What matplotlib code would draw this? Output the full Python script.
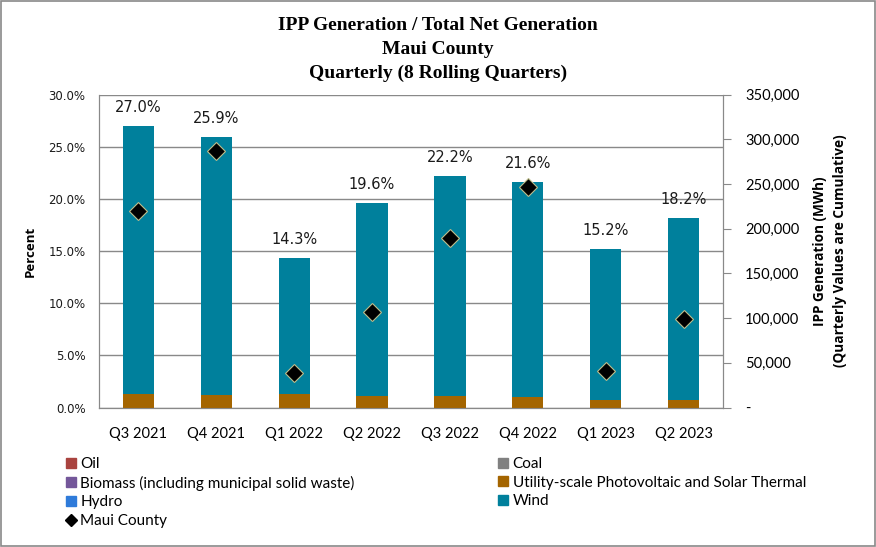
import matplotlib
matplotlib.use("Agg")
import matplotlib.pyplot as plt
from matplotlib.patches import Patch, Rectangle
from matplotlib.lines import Line2D
from matplotlib.ticker import FuncFormatter, MultipleLocator

# quarters shown on the x axis
quarters = ["Q3 2021", "Q4 2021", "Q1 2022", "Q2 2022",
            "Q3 2022", "Q4 2022", "Q1 2023", "Q2 2023"]

# IPP share of total net generation (percent)
total_pct = [27.0, 25.9, 14.3, 19.6, 22.2, 21.6, 15.2, 18.2]
solar_pct = [1.32, 1.20, 1.32, 1.13, 1.13, 1.00, 0.75, 0.75]
oil_pct = [0, 0, 0, 0, 0, 0, 0, 0]
coal_pct = [0, 0, 0, 0, 0, 0, 0, 0]
biomass_pct = [0, 0, 0, 0, 0, 0, 0, 0]
hydro_pct = [0, 0, 0, 0, 0, 0, 0, 0]
wind_pct = [t - s for t, s in zip(total_pct, solar_pct)]

# IPP generation, MWh (cumulative within the year), right axis
maui_mwh = [220200, 286700, 38300, 106500, 189300, 247100, 40500, 98700]

colors = {
    "oil": "#A9433F",
    "coal": "#808080",
    "biomass": "#74579A",
    "solar": "#A46500",
    "hydro": "#2F7BDA",
    "wind": "#00809C",
}
grid_gray = "#898989"

fig = plt.figure(figsize=(8.76, 5.47), dpi=100)
ax = fig.add_axes([0.1134, 0.255, 0.7116, 0.5719])
ax2 = ax.twinx()

x = list(range(len(quarters)))
width = 0.4

# stacked bars on the percent axis
bottom = [0.0] * len(x)
for vals, key in [(oil_pct, "oil"), (coal_pct, "coal"), (biomass_pct, "biomass"),
                  (solar_pct, "solar"), (hydro_pct, "hydro"), (wind_pct, "wind")]:
    ax.bar(x, vals, width, bottom=bottom, color=colors[key], zorder=3)
    bottom = [b + v for b, v in zip(bottom, vals)]

for xi, t in zip(x, total_pct):
    ax.annotate(f"{t:.1f}%", (xi, t), xytext=(0, 8), textcoords="offset points",
                ha="center", va="bottom", fontsize=10.5, family="DejaVu Sans",
                color="#1a1a1a")

ax.set_xlim(-0.5, len(x) - 0.5)
ax.set_ylim(0, 30)
ax.yaxis.set_major_locator(MultipleLocator(5))
ax.yaxis.set_major_formatter(FuncFormatter(lambda v, p: f"{v:.1f}%"))
ax.grid(axis="y", color=grid_gray, linewidth=1, zorder=0)
ax.set_axisbelow(True)
ax.set_xticks(x)
ax.set_xticklabels(quarters, family="Lato", fontsize=10.5)
ax.tick_params(axis="x", length=0, pad=14)
ax.tick_params(axis="y", length=0, pad=10, labelsize=8.5, colors="#1a1a1a")
ax.set_ylabel("Percent", family="Open Sans", fontweight="bold", fontsize=9.5, labelpad=8)

# diamonds on the MWh axis
ax2.plot(x, maui_mwh, linestyle="none", marker="D", markersize=9,
         markerfacecolor="black", markeredgecolor="#BDBD8C", markeredgewidth=0.8,
         zorder=5)
ax2.set_ylim(0, 350000)
ax2.yaxis.set_major_locator(MultipleLocator(50000))
ax2.yaxis.set_major_formatter(FuncFormatter(lambda v, p: "-" if v == 0 else f"{v:,.0f}"))
ax2.tick_params(axis="y", direction="out", length=6, color=grid_gray, pad=10,
                labelsize=10.5)
for lab in ax2.get_yticklabels():
    lab.set_family("Lato")
ax2.set_ylabel("IPP Generation (MWh)\n(Quarterly Values are Cumulative)",
               family="Open Sans", fontweight="bold", fontsize=9.8, labelpad=10,
               linespacing=1.5)

for a in (ax, ax2):
    for side in ("left", "right", "bottom"):
        a.spines[side].set_color(grid_gray)
    a.spines["top"].set_visible(False)

# title
title_lines = ["IPP Generation / Total Net Generation", "Maui County",
               "Quarterly (8 Rolling Quarters)"]
for i, line in enumerate(title_lines):
    fig.text(0.5, 1 - (26 + 23.5 * i) / 547, line, ha="center", va="center",
             family="Liberation Serif", fontweight="bold", fontsize=14)

# legend
handles = [
    Patch(color=colors["oil"], label="Oil"),
    Patch(color=colors["biomass"], label="Biomass (including municipal solid waste)"),
    Patch(color=colors["hydro"], label="Hydro"),
    Line2D([], [], linestyle="none", marker="D", markersize=6, markerfacecolor="black",
           markeredgecolor="black", label="Maui County"),
    Patch(color=colors["coal"], label="Coal"),
    Patch(color=colors["solar"], label="Utility-scale Photovoltaic and Solar Thermal"),
    Patch(color=colors["wind"], label="Wind"),
]
fig.legend(handles=handles, ncol=2, loc="upper left", bbox_to_anchor=(0.075, 1 - 457 / 547),
           frameon=False, prop={"family": "Lato", "size": 11}, handlelength=0.65,
           handleheight=0.65, handletextpad=0.3, columnspacing=9.4, labelspacing=0.3,
           borderaxespad=0, borderpad=0)

# outer border
fig.patches.append(Rectangle((0.001, 0.001), 0.998, 0.998, transform=fig.transFigure,
                             fill=False, edgecolor=grid_gray, linewidth=1.2))

fig.savefig("out.png", dpi=100)
